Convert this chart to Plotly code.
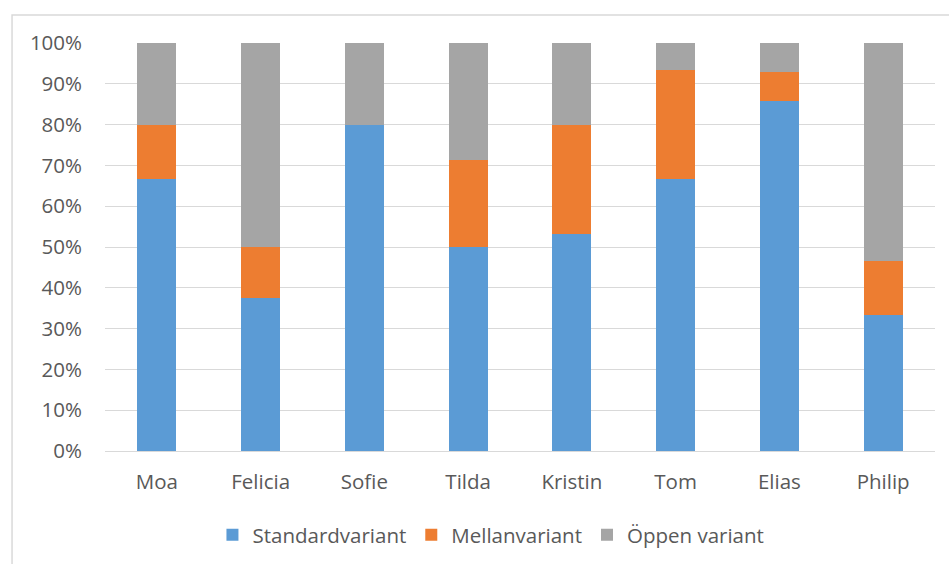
import plotly.graph_objects as go

# Andel av varje variant per elev
elever = ["Moa", "Felicia", "Sofie", "Tilda", "Kristin", "Tom", "Elias", "Philip"]
standardvariant = [0.667, 0.375, 0.800, 0.500, 0.533, 0.667, 0.857, 0.333]
mellanvariant = [0.133, 0.125, 0.000, 0.214, 0.267, 0.267, 0.071, 0.133]
oppen_variant = [0.200, 0.500, 0.200, 0.286, 0.200, 0.066, 0.072, 0.534]

serier = [
    ("Standardvariant", standardvariant, "#5B9BD5"),
    ("Mellanvariant", mellanvariant, "#ED7D31"),
    ("Öppen variant", oppen_variant, "#A5A5A5"),
]

FONT = "Open Sans"
TEXT = "#595959"
GRID = "#D9D9D9"
SIZE = 20.5

fig = go.Figure()
for namn, varden, farg in serier:
    fig.add_trace(go.Bar(x=elever, y=varden, name=namn,
                         marker=dict(color=farg, line=dict(width=0))))

fig.update_layout(
    barmode="stack",
    barnorm="fraction",
    bargap=0.624,
    width=949, height=564,
    margin=dict(l=105, r=14, t=43, b=113, autoexpand=False),
    paper_bgcolor="white",
    plot_bgcolor="white",
    font=dict(family=FONT, size=SIZE, color=TEXT),
    legend=dict(orientation="h", x=0.465, xanchor="center", y=-0.206, yanchor="middle",
                font=dict(family=FONT, size=SIZE, color=TEXT), traceorder="normal",
                itemwidth=30),
    shapes=[dict(type="rect", xref="paper", yref="paper",
                 x0=-0.112, x1=1.3, y0=-0.6, y1=1.0686,
                 line=dict(color=GRID, width=1.5), layer="below")],
)
fig.update_xaxes(showgrid=False, showline=False, zeroline=False, automargin=False,
                 ticks="", ticklabelstandoff=16,
                 tickfont=dict(family=FONT, size=SIZE, color=TEXT))
fig.update_yaxes(range=[0, 1], dtick=0.1, tickformat=".0%", automargin=False,
                 showgrid=True, gridcolor=GRID, gridwidth=1.3,
                 zeroline=True, zerolinecolor=GRID, zerolinewidth=1.3,
                 showline=False, ticks="", ticklabelstandoff=22,
                 tickfont=dict(family=FONT, size=SIZE, color=TEXT))

fig.write_html("out.html")
